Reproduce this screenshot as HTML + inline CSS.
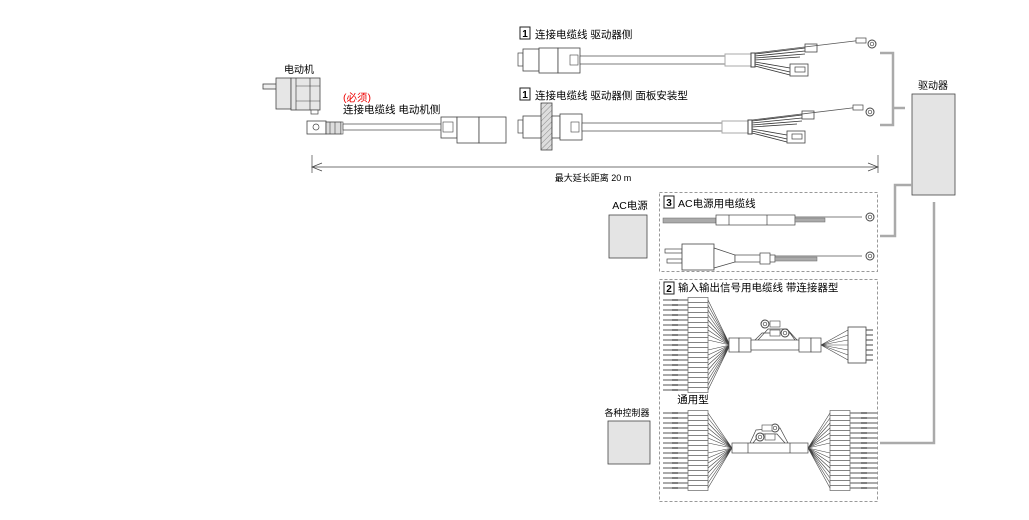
<!DOCTYPE html>
<html><head><meta charset="utf-8"><style>
html,body{margin:0;padding:0;background:#fff;}
svg{display:block;font-family:"Liberation Sans","Noto Sans CJK SC",sans-serif;}
</style></head><body>
<svg width="1029" height="520" viewBox="0 0 1029 520" xmlns="http://www.w3.org/2000/svg">
<defs>
<pattern id="hat" width="4" height="4" patternUnits="userSpaceOnUse" patternTransform="rotate(45)"><rect width="4" height="4" fill="#ddd"/><line x1="0" y1="0" x2="0" y2="4" stroke="#888" stroke-width="1"/></pattern>
<g id="rowL"><line x1="663" y1="0" x2="688" y2="0" stroke="#777" stroke-width="1.2"/><line x1="672" y1="0" x2="678" y2="0" stroke="#222"/><rect x="688" y="-2.5" width="20" height="5" fill="#fff" stroke="#666" stroke-width=".7"/></g>
<g id="rowR"><rect x="830" y="-2.5" width="20" height="5" fill="#fff" stroke="#666" stroke-width=".7"/><line x1="850" y1="0" x2="877" y2="0" stroke="#777" stroke-width="1.2"/><line x1="861" y1="0" x2="867" y2="0" stroke="#222"/></g>
<g id="ring"><circle r="4" fill="#fff" stroke="#444"/><circle r="1.8" fill="none" stroke="#444" stroke-width=".7"/></g>
<g id="tail">
<rect x="725" y="-6" width="26" height="12" fill="#fff" stroke="#aaa"/>
<rect x="751" y="-7" width="4" height="14" fill="#fff" stroke="#444"/>
<path d="M755-6 L805-12 M755-4 L805-9 M755-2 L805-6 M755 0 L800-3 M755 2 L790 8 M755 4 L790 12 M755 6 L790 15" stroke="#333" stroke-width=".8" fill="none"/>
<rect x="805" y="-16" width="12" height="8" fill="#fff" stroke="#444" stroke-width=".8"/>
<rect x="790" y="4" width="18" height="12" fill="#fff" stroke="#444" stroke-width=".8"/>
<rect x="795" y="7" width="10" height="5" fill="none" stroke="#444" stroke-width=".7"/>
<line x1="755" y1="-7" x2="863" y2="-20" stroke="#555" stroke-width=".8"/>
<rect x="856" y="-22" width="10" height="5" fill="#fff" stroke="#444" stroke-width=".7"/>
</g>
</defs>

<!-- motor -->
<text x="299" y="73" font-size="10" text-anchor="middle">电动机</text>
<rect x="263" y="84" width="14" height="5" fill="#eee" stroke="#444" stroke-width=".8"/>
<rect x="276" y="78" width="15" height="31" fill="#e6e6e6" stroke="#444" stroke-width=".8"/>
<rect x="291" y="78" width="29" height="32" fill="#e6e6e6" stroke="#444" stroke-width=".8"/>
<line x1="296" y1="78" x2="296" y2="110" stroke="#444" stroke-width=".7"/>
<line x1="310" y1="78" x2="310" y2="110" stroke="#444" stroke-width=".7"/>
<line x1="296" y1="86" x2="320" y2="86" stroke="#444" stroke-width=".5"/>
<line x1="296" y1="101" x2="320" y2="101" stroke="#444" stroke-width=".5"/>
<rect x="311" y="110" width="7" height="4" fill="#fff" stroke="#444" stroke-width=".7"/>

<text x="343" y="101" font-size="10.5" fill="#e00">(必须)</text>
<text x="343" y="113" font-size="10.5">连接电缆线 电动机侧</text>
<!-- motor side connector -->
<rect x="307" y="121" width="19" height="13" fill="#fff" stroke="#444" stroke-width=".8"/>
<circle cx="316" cy="127" r="3" fill="none" stroke="#444" stroke-width=".7"/>
<rect x="326" y="122" width="15" height="12" fill="#ddd" stroke="#444" stroke-width=".8"/>
<line x1="330" y1="122" x2="330" y2="134" stroke="#444" stroke-width=".6"/><line x1="335" y1="122" x2="335" y2="134" stroke="#444" stroke-width=".6"/>
<rect x="341" y="122" width="2" height="12" fill="#fff" stroke="#444" stroke-width=".6"/>
<rect x="343" y="124" width="100" height="6" fill="#fff" stroke="#444" stroke-width=".7"/>
<rect x="441" y="117" width="16" height="21" fill="#fff" stroke="#444" stroke-width=".8"/>
<rect x="443" y="122" width="10" height="10" fill="#fff" stroke="#444" stroke-width=".6"/>
<rect x="457" y="117" width="22" height="26" fill="#fff" stroke="#444" stroke-width=".8"/>
<rect x="479" y="117" width="27" height="26" fill="#fff" stroke="#444" stroke-width=".8"/>

<!-- cable 1 top -->
<rect x="520" y="27" width="10" height="12" fill="#fff" stroke="#222"/>
<text x="525" y="37" font-size="10" text-anchor="middle" font-weight="bold">1</text>
<text x="535" y="38" font-size="10.5">连接电缆线 驱动器侧</text>
<rect x="518" y="53" width="5" height="13" fill="#fff" stroke="#444" stroke-width=".7"/>
<rect x="523" y="49" width="16" height="22" fill="#fff" stroke="#444" stroke-width=".8"/>
<rect x="539" y="48" width="19" height="25" fill="#fff" stroke="#444" stroke-width=".8"/>
<rect x="558" y="48" width="22" height="25" fill="#fff" stroke="#444" stroke-width=".8"/>
<rect x="570" y="55" width="8" height="10" fill="#fff" stroke="#444" stroke-width=".6"/>
<rect x="580" y="56" width="146" height="8" fill="#fff" stroke="#444" stroke-width=".7"/>
<g transform="translate(0,60)"><use href="#tail"/></g>
<use href="#ring" x="872" y="44"/>

<!-- cable 1 panel -->
<rect x="520" y="88" width="10" height="12" fill="#fff" stroke="#222"/>
<text x="525" y="98" font-size="10" text-anchor="middle" font-weight="bold">1</text>
<text x="535" y="99" font-size="10.5">连接电缆线 驱动器侧 面板安装型</text>
<rect x="518" y="120" width="5" height="13" fill="#fff" stroke="#444" stroke-width=".7"/>
<rect x="523" y="116" width="20" height="22" fill="#fff" stroke="#444" stroke-width=".8"/>
<rect x="541" y="103" width="11" height="47" fill="url(#hat)" stroke="#444" stroke-width=".8"/>
<rect x="552" y="116" width="8" height="22" fill="#fff" stroke="#444" stroke-width=".8"/>
<rect x="560" y="114" width="22" height="26" fill="#fff" stroke="#444" stroke-width=".8"/>
<rect x="571" y="122" width="8" height="10" fill="#fff" stroke="#444" stroke-width=".6"/>
<rect x="582" y="123" width="142" height="8" fill="#fff" stroke="#444" stroke-width=".7"/>
<g transform="translate(-3,127)"><use href="#tail"/></g>
<use href="#ring" x="870" y="112"/>

<!-- dimension -->
<line x1="312" y1="155" x2="312" y2="173" stroke="#444" stroke-width=".7"/>
<line x1="878" y1="155" x2="878" y2="173" stroke="#444" stroke-width=".7"/>
<line x1="312" y1="167" x2="878" y2="167" stroke="#444" stroke-width=".7"/>
<path d="M322 163 L312 167 L322 171 M868 163 L878 167 L868 171" fill="none" stroke="#444" stroke-width=".7"/>
<text x="593" y="181" font-size="9" text-anchor="middle">最大延长距离 20 m</text>

<!-- driver -->
<path d="M880 53 H893 V125 H880 M893 108 H905" fill="none" stroke="#aaa" stroke-width="2.5"/>
<text x="933" y="89" font-size="10" text-anchor="middle">驱动器</text>
<rect x="912" y="94" width="43" height="101" fill="#e4e4e4" stroke="#444" stroke-width=".8"/>
<path d="M912 185 H895 V236 H880" fill="none" stroke="#aaa" stroke-width="2.5"/>
<path d="M934 202 V443 H880" fill="none" stroke="#aaa" stroke-width="2.5"/>

<!-- AC -->
<text x="630" y="209" font-size="10.5" text-anchor="middle">AC电源</text>
<rect x="609" y="215" width="38" height="43" fill="#e4e4e4" stroke="#444" stroke-width=".8"/>
<rect x="659.5" y="192.5" width="218" height="79" fill="none" stroke="#999" stroke-dasharray="3,2"/>
<rect x="664" y="196" width="10" height="12" fill="#fff" stroke="#222"/>
<text x="669" y="206" font-size="10" text-anchor="middle" font-weight="bold">3</text>
<text x="678" y="207" font-size="10.5">AC电源用电缆线</text>
<rect x="663" y="218" width="130" height="5" fill="#aaa" stroke="#666" stroke-width=".5"/>
<rect x="716" y="215" width="79" height="10" fill="#fff" stroke="#444" stroke-width=".7"/>
<line x1="729" y1="215" x2="729" y2="225" stroke="#444" stroke-width=".7"/>
<line x1="767" y1="215" x2="767" y2="225" stroke="#444" stroke-width=".7"/>
<rect x="795" y="218" width="30" height="4" fill="#aaa" stroke="#666" stroke-width=".5"/>
<line x1="795" y1="217" x2="862" y2="217" stroke="#555" stroke-width=".8"/>
<use href="#ring" x="870" y="217"/>
<rect x="665" y="249" width="17" height="4" fill="#fff" stroke="#444" stroke-width=".7"/>
<rect x="667" y="259" width="15" height="4" fill="#fff" stroke="#444" stroke-width=".7"/>
<rect x="682" y="244" width="32" height="26" fill="#fff" stroke="#444" stroke-width=".8"/>
<path d="M714 248 L735 255 L735 262 L714 268 Z" fill="#fff" stroke="#444" stroke-width=".7"/>
<rect x="735" y="255" width="40" height="7" fill="#fff" stroke="#444" stroke-width=".7"/>
<rect x="760" y="253" width="10" height="11" fill="#fff" stroke="#444" stroke-width=".7"/>
<rect x="775" y="257" width="42" height="4" fill="#aaa" stroke="#666" stroke-width=".5"/>
<line x1="775" y1="256" x2="862" y2="256" stroke="#555" stroke-width=".8"/>
<use href="#ring" x="870" y="256"/>

<!-- IO -->
<text x="627" y="416" font-size="9" text-anchor="middle">各种控制器</text>
<rect x="608" y="421" width="42" height="43" fill="#e4e4e4" stroke="#444" stroke-width=".8"/>
<rect x="659.5" y="279.5" width="218" height="222" fill="none" stroke="#999" stroke-dasharray="3,2"/>
<rect x="664" y="282" width="10" height="12" fill="#fff" stroke="#222"/>
<text x="669" y="292" font-size="10" text-anchor="middle" font-weight="bold">2</text>
<text x="678" y="291" font-size="10.5">输入输出信号用电缆线 带连接器型</text>

<g>
<use href="#rowL" y="300"/><use href="#rowL" y="305"/><use href="#rowL" y="310"/><use href="#rowL" y="315"/><use href="#rowL" y="320"/><use href="#rowL" y="325"/><use href="#rowL" y="330"/><use href="#rowL" y="335"/><use href="#rowL" y="340"/><use href="#rowL" y="345"/><use href="#rowL" y="350"/><use href="#rowL" y="355"/><use href="#rowL" y="360"/><use href="#rowL" y="365"/><use href="#rowL" y="370"/><use href="#rowL" y="375"/><use href="#rowL" y="380"/><use href="#rowL" y="385"/><use href="#rowL" y="390"/>
</g>
<path d="M708 300 L730 345 M708 310 L730 345 M708 320 L730 345 M708 330 L730 345 M708 340 L730 345 M708 350 L730 345 M708 360 L730 345 M708 370 L730 345 M708 380 L730 345 M708 390 L730 345 M708 305 L730 345 M708 315 L730 345 M708 325 L730 345 M708 335 L730 345 M708 355 L730 345 M708 365 L730 345 M708 375 L730 345 M708 385 L730 345" stroke="#444" stroke-width=".6"/>
<rect x="729" y="338" width="10" height="14" fill="#fff" stroke="#444" stroke-width=".7"/>
<rect x="739" y="338" width="12" height="14" fill="#fff" stroke="#444" stroke-width=".7"/>
<rect x="751" y="340" width="48" height="10" fill="#fff" stroke="#444" stroke-width=".7"/>
<rect x="799" y="338" width="12" height="14" fill="#fff" stroke="#444" stroke-width=".7"/>
<rect x="811" y="338" width="10" height="14" fill="#fff" stroke="#444" stroke-width=".7"/>
<path d="M755 340 L762 333 L790 333 L795 340 M758 340 L768 329 L787 329 L797 340" fill="none" stroke="#444" stroke-width=".7"/>
<use href="#ring" x="765" y="324"/><rect x="770" y="321" width="10" height="6" fill="#fff" stroke="#444" stroke-width=".6"/>
<use href="#ring" x="785" y="333"/><rect x="770" y="330" width="10" height="6" fill="#fff" stroke="#444" stroke-width=".6"/>
<path d="M821 345 L848 330 M821 345 L848 335 M821 345 L848 340 M821 345 L848 345 M821 345 L848 350 M821 345 L848 355 M821 345 L848 360" stroke="#444" stroke-width=".6"/>
<rect x="848" y="327" width="18" height="36" fill="#fff" stroke="#444" stroke-width=".8"/>
<path d="M866 330 H873 M866 335 H873 M866 340 H873 M866 345 H873 M866 350 H873 M866 355 H873 M866 360 H873" stroke="#444" stroke-width="1"/>

<text x="693" y="403" font-size="10.5" text-anchor="middle">通用型</text>
<g>
<use href="#rowL" y="413"/><use href="#rowL" y="418"/><use href="#rowL" y="423"/><use href="#rowL" y="428"/><use href="#rowL" y="433"/><use href="#rowL" y="438"/><use href="#rowL" y="443"/><use href="#rowL" y="448"/><use href="#rowL" y="453"/><use href="#rowL" y="458"/><use href="#rowL" y="463"/><use href="#rowL" y="468"/><use href="#rowL" y="473"/><use href="#rowL" y="478"/><use href="#rowL" y="483"/><use href="#rowL" y="488"/>
<use href="#rowR" y="413"/><use href="#rowR" y="418"/><use href="#rowR" y="423"/><use href="#rowR" y="428"/><use href="#rowR" y="433"/><use href="#rowR" y="438"/><use href="#rowR" y="443"/><use href="#rowR" y="448"/><use href="#rowR" y="453"/><use href="#rowR" y="458"/><use href="#rowR" y="463"/><use href="#rowR" y="468"/><use href="#rowR" y="473"/><use href="#rowR" y="478"/><use href="#rowR" y="483"/><use href="#rowR" y="488"/>
</g>
<path d="M708 413 L732 448 M708 423 L732 448 M708 433 L732 448 M708 443 L732 448 M708 453 L732 448 M708 463 L732 448 M708 473 L732 448 M708 483 L732 448 M708 418 L732 448 M708 428 L732 448 M708 438 L732 448 M708 458 L732 448 M708 468 L732 448 M708 478 L732 448 M708 488 L732 448
M830 413 L808 448 M830 423 L808 448 M830 433 L808 448 M830 443 L808 448 M830 453 L808 448 M830 463 L808 448 M830 473 L808 448 M830 483 L808 448 M830 418 L808 448 M830 428 L808 448 M830 438 L808 448 M830 458 L808 448 M830 468 L808 448 M830 478 L808 448 M830 488 L808 448" stroke="#444" stroke-width=".6"/>
<rect x="732" y="443" width="76" height="10" fill="#fff" stroke="#444" stroke-width=".7"/>
<line x1="748" y1="443" x2="748" y2="453" stroke="#444" stroke-width=".7"/>
<line x1="790" y1="443" x2="790" y2="453" stroke="#444" stroke-width=".7"/>
<path d="M750 443 L756 430 L780 428 L788 443 M753 443 L760 434 L777 434 L785 443" fill="none" stroke="#444" stroke-width=".7"/>
<use href="#ring" x="775" y="428"/><rect x="762" y="425" width="10" height="6" fill="#fff" stroke="#444" stroke-width=".6"/>
<use href="#ring" x="760" y="437"/><rect x="765" y="434" width="10" height="6" fill="#fff" stroke="#444" stroke-width=".6"/>
</svg>
</body></html>
